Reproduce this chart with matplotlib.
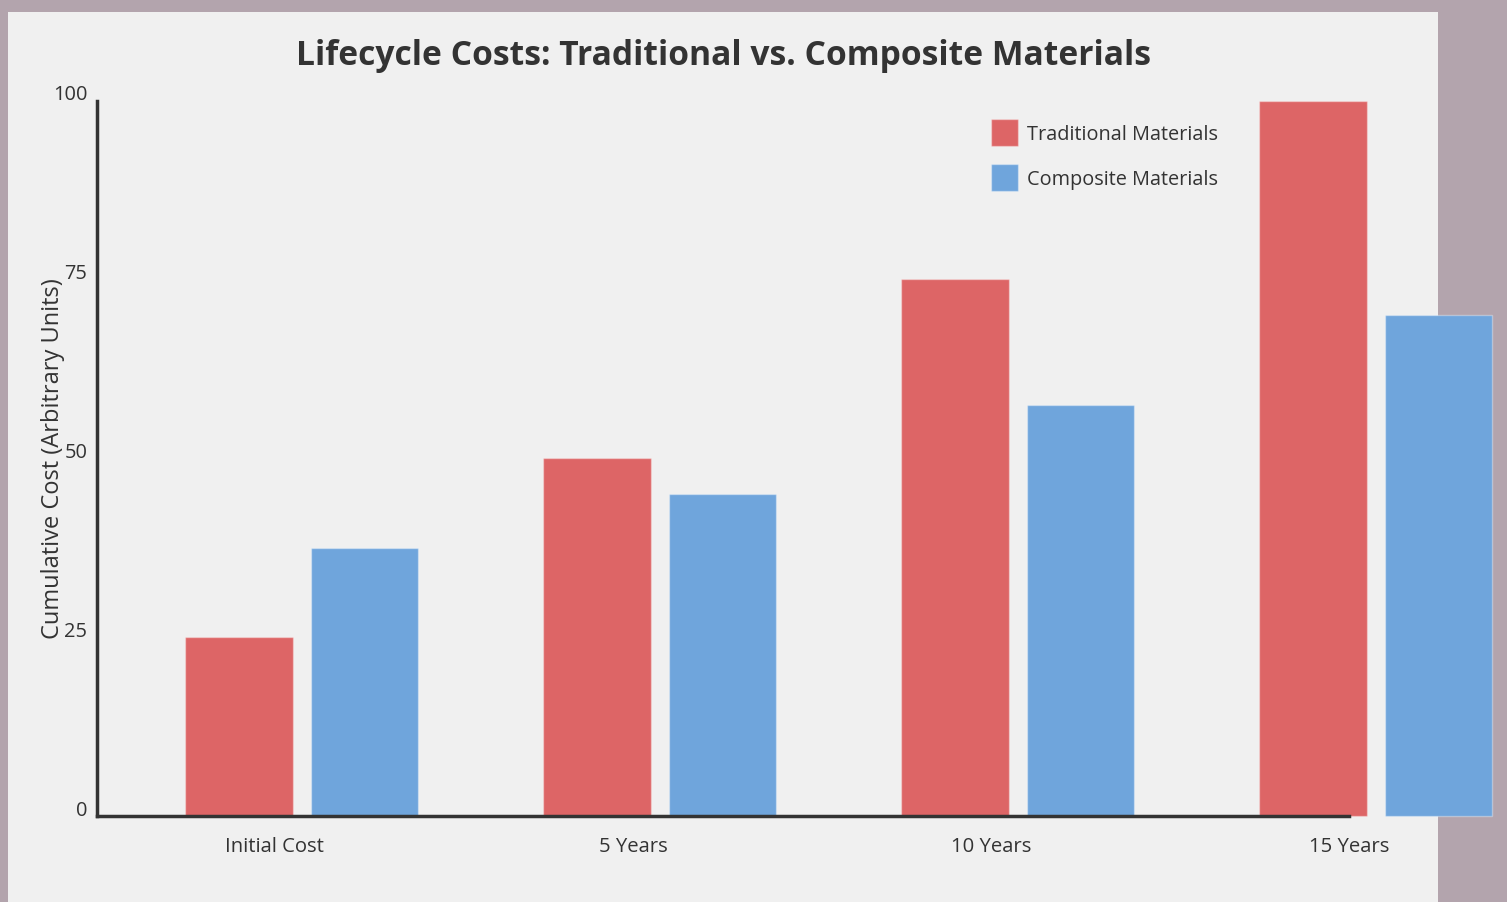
import matplotlib
matplotlib.use("Agg")
import matplotlib.pyplot as plt
from matplotlib.patches import Rectangle
import numpy as np

categories = ["Initial Cost", "5 Years", "10 Years", "15 Years"]
traditional = [25, 50, 75, 100]
composite = [37.5, 45, 57.5, 70]
series_names = ["Traditional Materials", "Composite Materials"]
yticks = [0, 25, 50, 75, 100]

RED = "#dd6566"
BLUE = "#6fa5dc"
TXT = "#333333"
EDGE = (1, 1, 1, 0.35)

plt.rcParams['font.family'] = ['Open Sans', 'DejaVu Sans']

W, H = 1507, 902
fig = plt.figure(figsize=(W / 100, H / 100), dpi=100)
fig.patch.set_facecolor("#b3a4ad")

def fx(px):
    return px / W

def fy(py):
    return 1 - py / H

# light panel
fig.patches.append(Rectangle((fx(8), 0), fx(1438) - fx(8), fy(12), transform=fig.transFigure,
                             facecolor="#f0f0f0", edgecolor="none", zorder=-10))

ax_left, ax_right, ax_top, ax_bottom = 97, 1349, 100.5, 816
ax = fig.add_axes([fx(ax_left), fy(ax_bottom), fx(ax_right) - fx(ax_left), fy(ax_top) - fy(ax_bottom)])
ax.set_facecolor("none")

x = np.arange(len(categories))
ax.bar(x - 0.1, traditional, width=0.3, color=RED, edgecolor=EDGE, linewidth=1,
       clip_on=False, zorder=2)
ax.bar(x + 0.25, composite, width=0.3, color=BLUE, edgecolor=EDGE, linewidth=1,
       clip_on=False, zorder=2)

ax.set_xlim(-0.497, 3.0)
ax.set_ylim(0, 100)

for s in ["top", "right"]:
    ax.spines[s].set_visible(False)
for s in ["left", "bottom"]:
    ax.spines[s].set_color(TXT)
    ax.spines[s].set_linewidth(2.5)
    ax.spines[s].set_zorder(3)

ax.set_xticks(x)
ax.set_xticklabels(categories, fontsize=14.6, color=TXT)
ax.set_yticks(yticks)
ax.set_yticklabels([str(v) for v in yticks], fontsize=14.4, color=TXT, va="baseline")
ax.tick_params(axis="x", length=0, pad=15)
ax.tick_params(axis="y", length=0, pad=7)

ax.set_ylabel("Cumulative Cost (Arbitrary Units)", fontsize=17, color=TXT)
ax.yaxis.set_label_coords((53 - ax_left) / (ax_right - ax_left), 0.5)
ax.yaxis.label.set_va("center")

fig.text(fx(723), fy(56), "Lifecycle Costs: Traditional vs. Composite Materials",
         ha="center", va="center", fontsize=24.2, fontweight="bold", color=TXT)

# legend
for i, (name, col) in enumerate(zip(series_names, [RED, BLUE])):
    top = 119 + 45 * i
    fig.patches.append(Rectangle((fx(991), fy(top + 27)), fx(27), 27 / H, transform=fig.transFigure,
                                 facecolor=col, edgecolor=EDGE, linewidth=1, zorder=5))
    fig.text(fx(1027), fy(top + 16), name, ha="left", va="center", fontsize=14.3, color=TXT)

fig.savefig("out.png", dpi=100, facecolor=fig.get_facecolor())
